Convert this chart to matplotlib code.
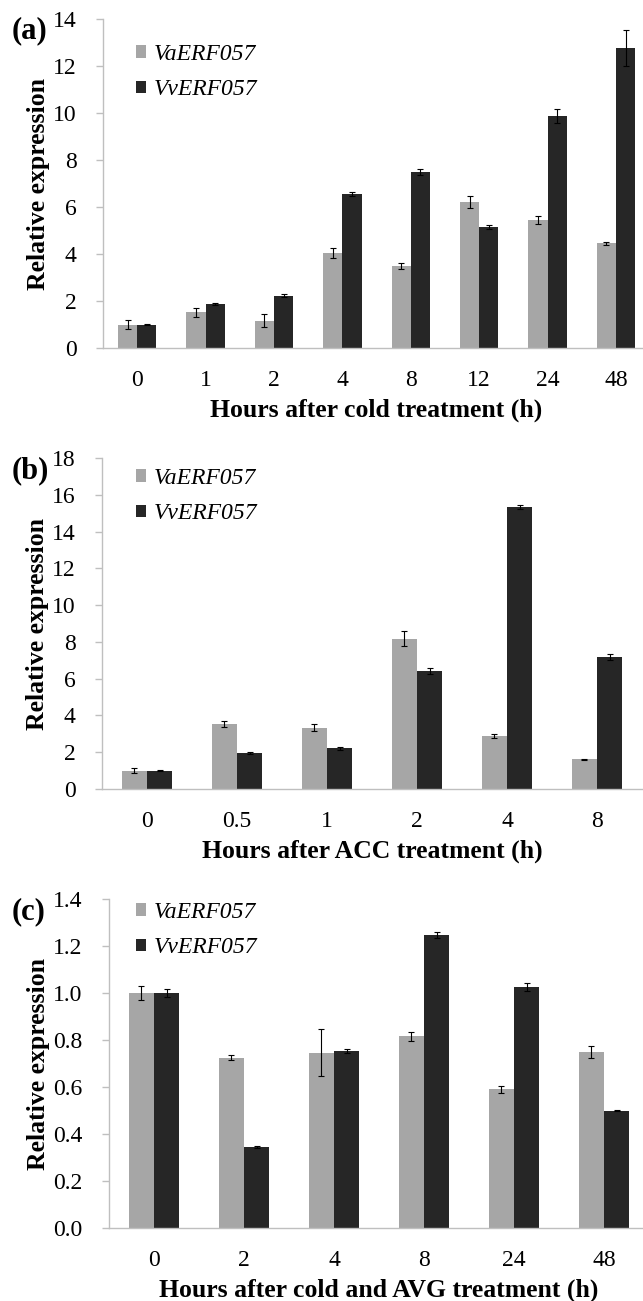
import numpy as np
import matplotlib
matplotlib.use("Agg")
import matplotlib.pyplot as plt

plt.rcParams['font.family'] = ['Liberation Serif', 'DejaVu Serif']

series_names = ['VaERF057', 'VvERF057']
bar_colors = ['#a6a6a6', '#262626']

# (a) cold treatment
a_labels = ['0', '1', '2', '4', '8', '12', '24', '48']
a_va = [1.0, 1.52, 1.17, 4.05, 3.5, 6.22, 5.45, 4.45]
a_va_err = [0.2, 0.2, 0.28, 0.2, 0.12, 0.25, 0.18, 0.07]
a_vv = [1.0, 1.88, 2.22, 6.55, 7.48, 5.15, 9.88, 12.78]
a_vv_err = [0.02, 0.04, 0.07, 0.07, 0.12, 0.08, 0.3, 0.76]

# (b) ACC treatment
b_labels = ['0', '0.5', '1', '2', '4', '8']
b_va = [1.0, 3.55, 3.33, 8.18, 2.88, 1.62]
b_va_err = [0.15, 0.17, 0.2, 0.42, 0.13, 0.02]
b_vv = [1.0, 1.97, 2.22, 6.42, 15.32, 7.18]
b_vv_err = [0.02, 0.06, 0.08, 0.15, 0.12, 0.15]

# (c) cold + AVG treatment
c_labels = ['0', '2', '4', '8', '24', '48']
c_va = [1.0, 0.725, 0.745, 0.815, 0.59, 0.75]
c_va_err = [0.03, 0.01, 0.1, 0.02, 0.015, 0.025]
c_vv = [1.0, 0.343, 0.753, 1.245, 1.025, 0.5]
c_vv_err = [0.018, 0.004, 0.007, 0.013, 0.017, 0.004]

W, H = 643, 1301
fig = plt.figure(figsize=(W / 100, H / 100), dpi=100)

axis_gray = '#bfbfbf'


def px_axes(left, top, spacing, n, zero):
    # pixel coords -> figure fraction
    width = spacing * n
    return fig.add_axes([left / W, 1 - zero / H, width / W, (zero - top) / H])


def draw_panel(ax, labels, va, va_err, vv, vv_err, ymax, ystep, fmt, xlabel, tag,
               tag_xy, leg_xy):
    x = np.arange(len(labels))
    w = 0.28
    ekw = dict(ecolor='black', elinewidth=0.8, capsize=2.5, capthick=0.8)
    b1 = ax.bar(x - w / 2, va, w, yerr=va_err, color=bar_colors[0], error_kw=ekw,
                label=series_names[0])
    b2 = ax.bar(x + w / 2, vv, w, yerr=vv_err, color=bar_colors[1], error_kw=ekw,
                label=series_names[1])
    ax.set_xlim(-0.5, len(labels) - 0.5)
    ax.set_ylim(0, ymax)
    ticks = np.arange(0, ymax + ystep / 2, ystep)
    ax.set_yticks(ticks)
    ax.set_yticklabels([fmt.format(t) for t in ticks])
    ax.set_xticks(x)
    ax.set_xticklabels(labels)
    for s in ['top', 'right']:
        ax.spines[s].set_visible(False)
    for s in ['left', 'bottom']:
        ax.spines[s].set_color(axis_gray)
        ax.spines[s].set_linewidth(1.0)
    ax.tick_params(axis='y', direction='out', length=5, width=1.0, color=axis_gray,
                   labelsize=17, pad=14)
    ax.tick_params(axis='x', length=0, labelsize=17, pad=16)
    ax.set_xlabel(xlabel, fontsize=18.5, fontweight='bold', labelpad=5)
    ax.set_ylabel('Relative expression', fontsize=18.5, fontweight='bold', labelpad=2)
    fig.text(tag_xy[0] / W, 1 - tag_xy[1] / H, tag, fontsize=22, fontweight='bold',
             ha='left', va='center')
    leg = ax.legend(handles=[b1, b2], loc='upper left',
                    bbox_to_anchor=(leg_xy[0] / W, 1 - leg_xy[1] / H),
                    bbox_transform=fig.transFigure, frameon=False,
                    handlelength=0.42, handleheight=0.42, handletextpad=0.35,
                    labelspacing=0.6, borderpad=0, borderaxespad=0,
                    prop={'style': 'italic', 'size': 17})
    return leg


ax_a = px_axes(103, 19, 68.4, 8, 348)
draw_panel(ax_a, a_labels, a_va, a_va_err, a_vv, a_vv_err, 14, 2, '{:.0f}',
           'Hours after cold treatment (h)', '(a)', (12, 31), (136, 44))

ax_b = px_axes(102, 458, 90, 6, 789)
draw_panel(ax_b, b_labels, b_va, b_va_err, b_vv, b_vv_err, 18, 2, '{:.0f}',
           'Hours after ACC treatment (h)', '(b)', (12, 471), (136, 468))

ax_c = px_axes(109, 899, 90, 6, 1228)
draw_panel(ax_c, c_labels, c_va, c_va_err, c_vv, c_vv_err, 1.4, 0.2, '{:.1f}',
           'Hours after cold and AVG treatment (h)', '(c)', (12, 912), (136, 902))

fig.savefig('out.png', dpi=100)
